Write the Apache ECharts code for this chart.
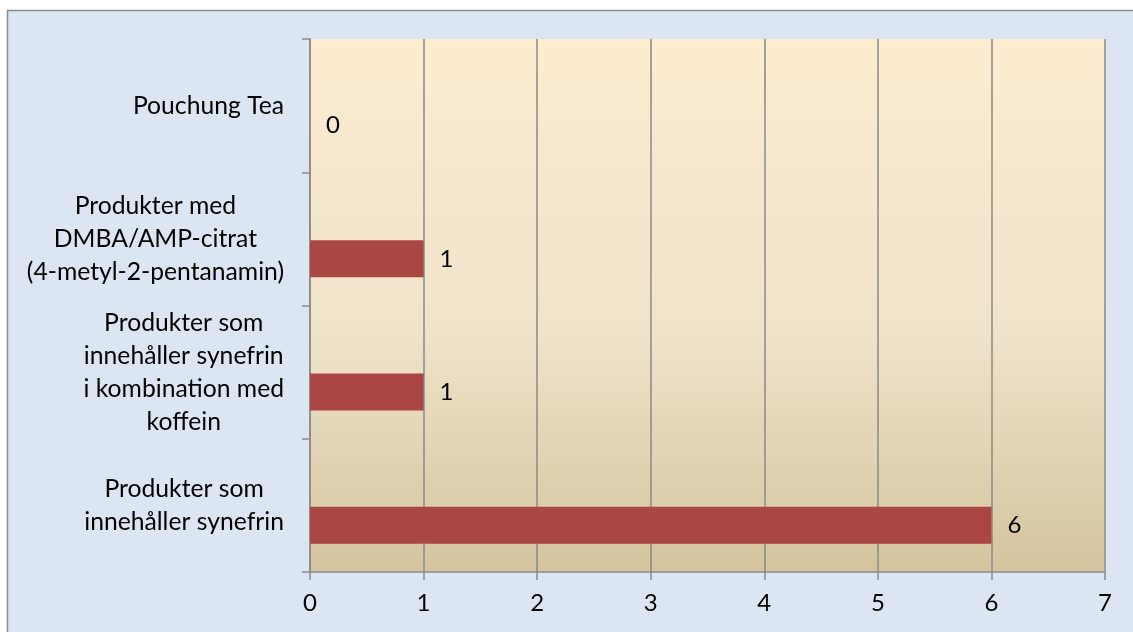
<!DOCTYPE html>
<html>
<head>
<meta charset="utf-8">
<script src="https://cdn.jsdelivr.net/npm/echarts@6/dist/echarts.min.js"></script>
<style>
html,body{margin:0;padding:0;background:#ffffff;}
#chart{width:1133px;height:632px;}
</style>
</head>
<body>
<div id="chart"></div>
<script>
var categories = [
  "Pouchung Tea",
  "Produkter med\nDMBA/AMP-citrat\n(4-metyl-2-pentanamin)",
  "Produkter som\ninnehåller synefrin\ni kombination med\nkoffein",
  "Produkter som\ninnehåller synefrin"
];
var values = [0, 1, 1, 6];
var emptyValues = [null, null, null, null];
var xTicks = [0, 1, 2, 3, 4, 5, 6, 7];

var FONT = "Lato";
var chart = echarts.init(document.getElementById('chart'));
var gridColor = '#8a8a8a';
var option = {
  backgroundColor: '#ffffff',
  animation: false,
  graphic: [{
    type: 'rect',
    z: -10,
    shape: {x: 7.5, y: 10.5, width: 1300, height: 800},
    style: {fill: '#dce6f2', stroke: '#8c8c8c', lineWidth: 1.5}
  }],
  grid: {
    left: 310, right: 28, top: 39, bottom: 60,
    show: true,
    borderWidth: 0,
    backgroundColor: {
      type: 'linear', x: 0, y: 0, x2: 0, y2: 1,
      colorStops: [
        {offset: 0, color: '#fdecd0'},
        {offset: 0.55, color: '#efe3ca'},
        {offset: 1, color: '#d4c49e'}
      ]
    }
  },
  xAxis: {
    type: 'value',
    min: xTicks[0],
    max: xTicks[xTicks.length - 1],
    interval: 1,
    axisLine: {show: true, lineStyle: {color: gridColor, width: 1.5}},
    axisTick: {show: true, length: 8, lineStyle: {color: gridColor, width: 1.5}},
    splitLine: {show: true, lineStyle: {color: gridColor, width: 1.5}},
    axisLabel: {
      color: '#000', fontFamily: FONT, fontSize: 24, margin: 19,
      formatter: function (v) { return String(v); }
    }
  },
  yAxis: {
    type: 'category',
    inverse: true,
    data: categories,
    axisLine: {show: true, lineStyle: {color: gridColor, width: 1.5}},
    axisTick: {show: true, length: 8, lineStyle: {color: gridColor, width: 1.5}},
    splitLine: {show: false},
    axisLabel: {
      color: '#000', margin: 26, align: 'right',
      formatter: function (v) {
        return v.split('\n').map(function (l) { return '{c|' + l + '}'; }).join('\n');
      },
      rich: {
        c: {align: 'center', fontFamily: FONT, fontSize: 24.7, lineHeight: 33, color: '#000'}
      }
    }
  },
  series: [
    {
      type: 'bar', data: emptyValues, barWidth: 37, barGap: '8%', silent: true
    },
    {
      type: 'bar', data: values, barWidth: 37, barGap: '8%',
      itemStyle: {color: '#aa4644'},
      label: {
        show: true, position: 'right', distance: 16,
        color: '#000', fontFamily: FONT, fontSize: 24
      }
    }
  ]
};
chart.setOption(option);
</script>
</body>
</html>
